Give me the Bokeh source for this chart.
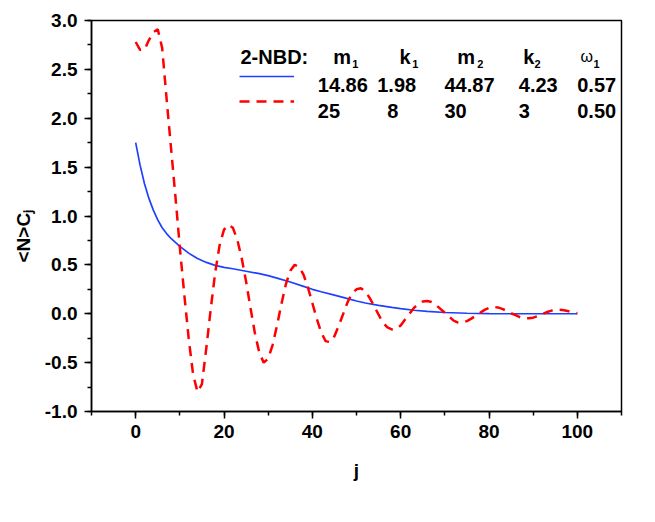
from bokeh.plotting import figure
from bokeh.models import (Range1d, SingleIntervalTicker, NumeralTickFormatter,
                          Label, Legend, LegendItem, Title)
from bokeh.embed import file_html
from bokeh.resources import INLINE

# ---------------- data ----------------
blue_j = [0, 1, 2, 3, 4, 5, 6, 7, 8, 9, 10, 12, 14, 16, 18, 20, 22, 25, 28, 30,
          32, 35, 38, 40, 42, 45, 48, 50, 52, 55, 58, 60, 63, 66, 70, 75, 80,
          85, 90, 95, 100]
blue_c = [1.75, 1.52, 1.33, 1.18, 1.06, 0.96, 0.88, 0.82, 0.77, 0.73, 0.69,
          0.62, 0.565, 0.525, 0.495, 0.475, 0.46, 0.435, 0.41, 0.39, 0.365,
          0.325, 0.28, 0.25, 0.225, 0.19, 0.155, 0.13, 0.11, 0.085, 0.065,
          0.052, 0.036, 0.024, 0.013, 0.005, 0.001, 0.0, 0.0, 0.0, 0.0]

red_j = list(range(0, 101))
red_c = [2.78, 2.70, 2.70, 2.80, 2.88, 2.91, 2.72, 2.20, 1.70, 1.20,
         0.68, 0.20, -0.25, -0.62, -0.80, -0.72, -0.35, 0.05, 0.42, 0.70,
         0.86, 0.91, 0.88, 0.76, 0.57, 0.33, 0.06, -0.20, -0.40, -0.50,
         -0.46, -0.32, -0.12, 0.10, 0.30, 0.44, 0.50, 0.48, 0.40, 0.27,
         0.11, -0.05, -0.19, -0.28, -0.29, -0.23, -0.12, 0.00, 0.12, 0.21,
         0.25, 0.26, 0.23, 0.16, 0.08, -0.01, -0.09, -0.14, -0.16, -0.155,
         -0.12, -0.06, 0.00, 0.06, 0.10, 0.125, 0.13, 0.12, 0.09, 0.05,
         0.01, -0.03, -0.07, -0.09, -0.09, -0.075, -0.05, -0.02, 0.01, 0.04,
         0.06, 0.07, 0.065, 0.05, 0.03, 0.005, -0.015, -0.035, -0.045, -0.045,
         -0.04, -0.025, -0.005, 0.015, 0.03, 0.04, 0.04, 0.035, 0.025, 0.015,
         0.005]

legend_title = "2-NBD:"
param_names = ["m", "k", "m", "k", "\u03c9"]
param_subs = ["1", "1", "2", "2", "1"]
blue_params = ["14.86", "1.98", "44.87", "4.23", "0.57"]
red_params = ["25", "8", "30", "3", "0.50"]

x_label = "j"
y_label = "<N>C\u2c7c"

# ---------------- layout constants ----------------
FONT = "Liberation Sans"
name_x = [241.7, 308, 365.7, 431.7, 489]
sub_x = [260.7, 320.7, 385.7, 443, 502]
row1_x = [226.3, 285.7, 353, 427.3, 485.7]
row2_x = [226.3, 295.7, 353, 427.3, 485.7]

p = figure(width=650, height=516, output_backend="svg", toolbar_location=None,
           x_range=Range1d(-10, 110), y_range=Range1d(-1, 3),
           min_border_left=91, min_border_right=29, min_border_top=20,
           min_border_bottom=105)
p.background_fill_color = "white"
p.border_fill_color = "white"
p.outline_line_color = "black"
p.outline_line_width = 1.5
p.xgrid.visible = False
p.ygrid.visible = False

p.xaxis.ticker = SingleIntervalTicker(interval=20, num_minor_ticks=2)
p.yaxis.ticker = SingleIntervalTicker(interval=0.5, num_minor_ticks=2)
p.yaxis.formatter = NumeralTickFormatter(format="0.0")
for ax in (p.xaxis, p.yaxis):
    ax.axis_line_width = 1.5
    ax.major_tick_line_width = 1.5
    ax.minor_tick_line_width = 1.5
    ax.major_tick_in = 0
    ax.major_tick_out = 7
    ax.minor_tick_in = 0
    ax.minor_tick_out = 4
    ax.major_label_text_font = FONT
    ax.major_label_text_font_style = "bold"
    ax.major_label_text_font_size = "19px"
    ax.major_label_text_color = "black"
    ax.axis_label_text_font = FONT
    ax.axis_label_text_font_style = "bold"
    ax.axis_label_text_font_size = "19px"
    ax.axis_label_text_color = "black"
p.xaxis.major_label_standoff = 6
p.yaxis.major_label_standoff = 7

p.xaxis.axis_label = x_label
p.xaxis.axis_label_standoff = 19

# y-axis label as a side title so it can sit below the frame centre
p.add_layout(Title(text=y_label, align="left", offset=149, standoff=15,
                   text_font=FONT, text_font_style="bold",
                   text_font_size="19px", text_color="black"), "left")

blue = p.line(blue_j, blue_c, line_color="#2040ff", line_width=1.7)
red = p.line(red_j, red_c, line_color="#ff0000", line_width=2.5,
             line_dash="10 7")


def lab(x, y, t, size="20px", style="bold"):
    p.add_layout(Label(x=x, y=y, x_units="screen", y_units="screen", text=t,
                       text_align="left", text_baseline="alphabetic",
                       text_font=FONT, text_font_style=style,
                       text_font_size=size, text_color="black"))


lab(149, 355, legend_title)
for i in range(5):
    if param_names[i] == "\u03c9":
        lab(name_x[i], 355, param_names[i], size="16px", style="normal")
    else:
        lab(name_x[i], 355, param_names[i])
    lab(sub_x[i], 348, param_subs[i], size="11px")
    lab(row1_x[i], 327, blue_params[i])
    lab(row2_x[i], 301, red_params[i])

legend = Legend(items=[LegendItem(label=" ", renderers=[blue]),
                       LegendItem(label=" ", renderers=[red])],
                location=(148, 300), padding=0, margin=0, spacing=5,
                glyph_width=55, glyph_height=20, label_height=20,
                label_width=0, label_standoff=0,
                label_text_font_size="1px",
                border_line_alpha=0, background_fill_alpha=0)
p.add_layout(legend)

open("out.html", "w").write(file_html(p, INLINE))
